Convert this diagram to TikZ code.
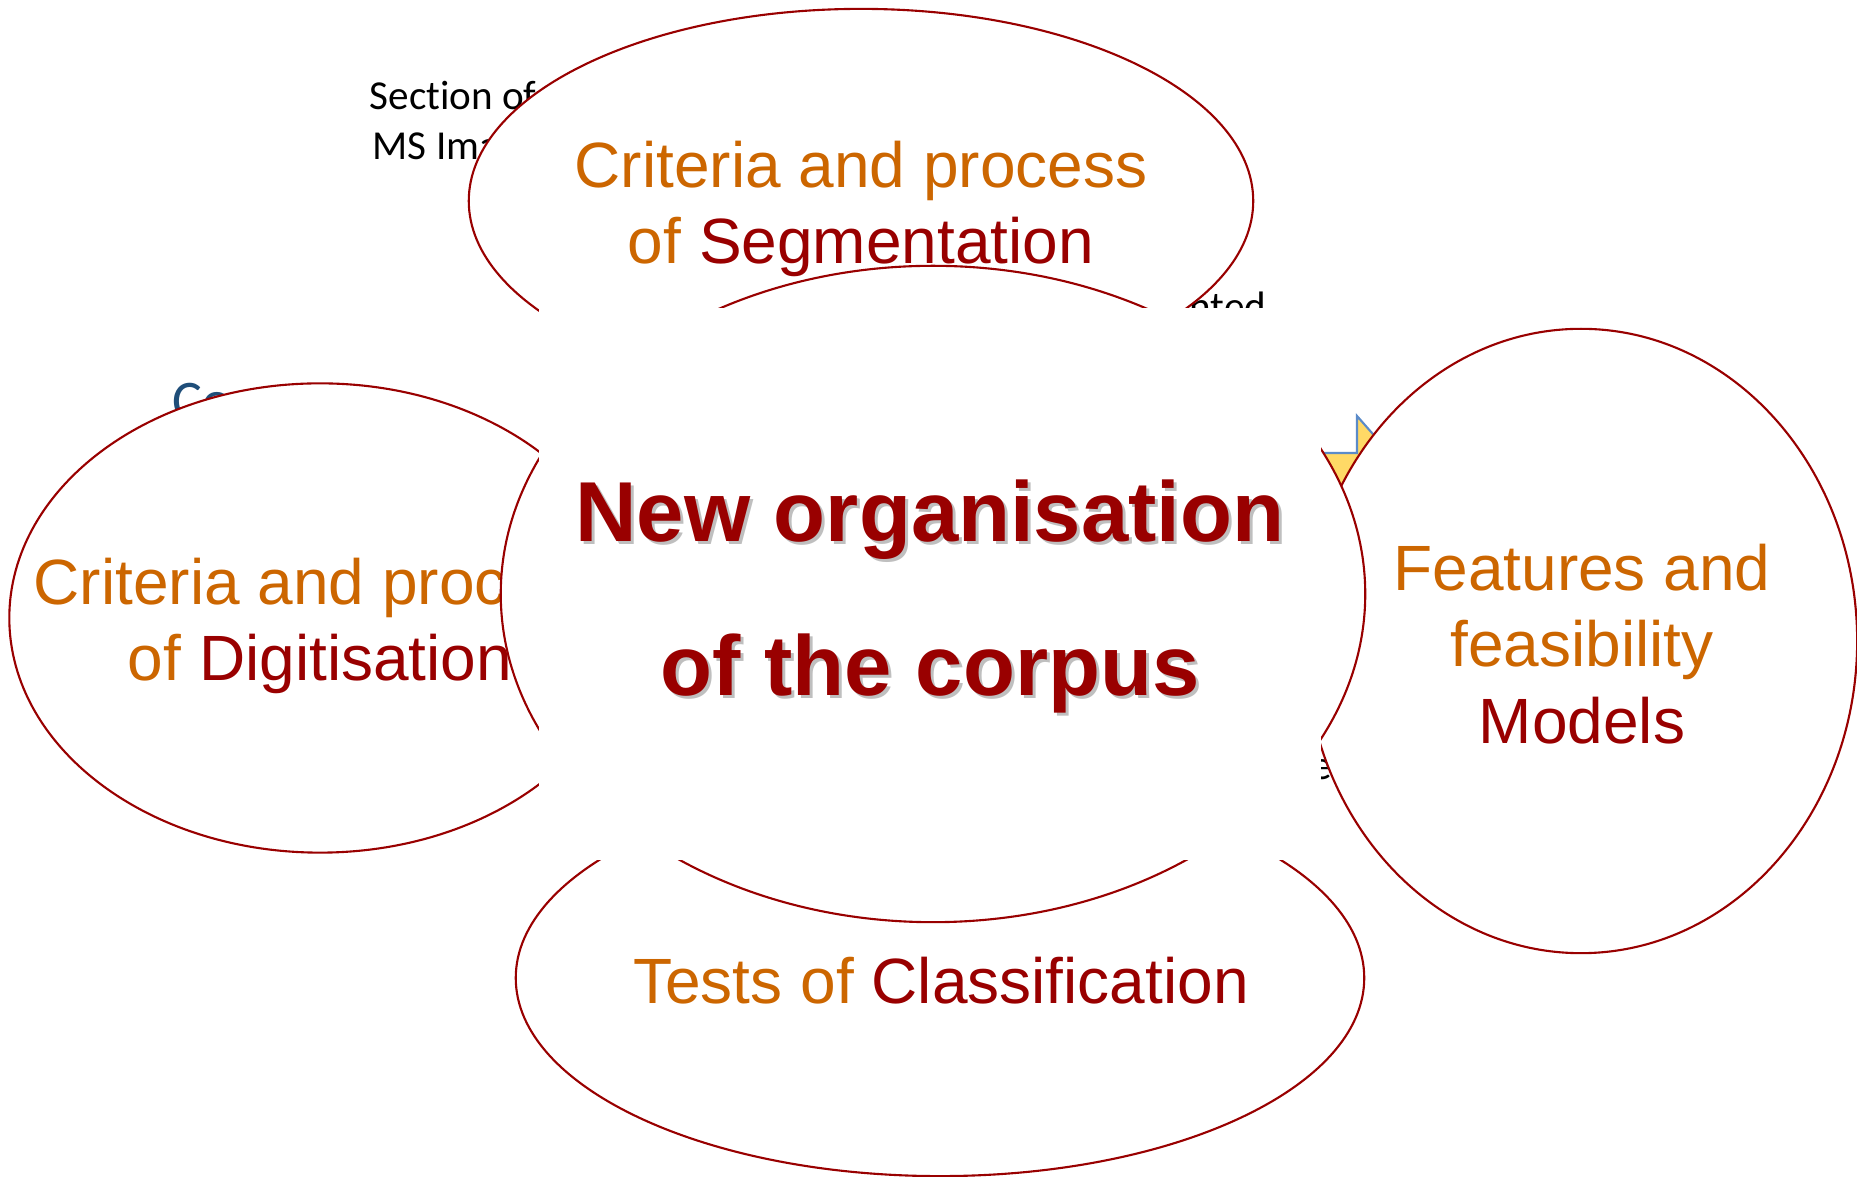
\documentclass[tikz,border=0pt]{standalone}
\usepackage{fontspec}
\setmainfont{Liberation Sans}
\newfontfamily\calibri[Ligatures=NoCommon]{Carlito}
\usepackage{xcolor}
\usetikzlibrary{shapes.geometric}
\definecolor{darkred}{HTML}{990000}
\definecolor{burnt}{HTML}{CC6600}
\definecolor{slateblue}{HTML}{1F4E79}
\definecolor{gold}{HTML}{FFD966}
\definecolor{edgeblue}{HTML}{5B8BC9}

\begin{document}
\begin{tikzpicture}[x=0.01cm, y=-0.01cm,
  bubble/.style={ellipse, draw=darkred, line width=0.6pt, fill=white, inner sep=0pt},
  bubbletext/.style={align=center, inner sep=0pt, text=burnt, font=\fontsize{18.2pt}{21.8pt}\selectfont},
  remark/.style={inner sep=0pt, font=\calibri\fontsize{11.7pt}{14.2pt}\selectfont},
  headline/.style={inner sep=0pt, anchor=base, font=\bfseries\fontsize{24.2pt}{29pt}\selectfont}]

\useasboundingbox (0,0) rectangle (1857,1177);

% texts lying behind the bubbles
\node[remark, anchor=base west] (sec1) at (369,110) {Section of};
\node[remark, anchor=base west] (sec2) at (372,160) {MS Ima};
\node[remark, anchor=base east] (nted) at (1267,321) {nted};
\node[remark, anchor=base east] (lastE) at (1333,780) {e};
\node[remark, anchor=base west, text=slateblue, font=\calibri\fontsize{15.9pt}{19pt}\selectfont] (co) at (172,420) {Co};
\draw[edgeblue, line width=0.6pt, fill=gold] (1290,453) -- (1357,453) -- (1357,416) -- (1430,499)
    -- (1357,582) -- (1357,545) -- (1290,545) -- cycle;

% outer bubbles
\node[bubble, minimum width=7.84cm, minimum height=3.84cm] (seg) at (861,201) {};
\node[bubbletext] (segtxt) at (861,209) {Criteria and process\\of \textcolor{darkred}{Segmentation}};

\node[bubble, minimum width=6.21cm, minimum height=4.69cm] (dig) at (320,618) {};
\node[bubbletext] (digtxt) at (320,626) {Criteria and process\\of \textcolor{darkred}{Digitisation}};

\node[bubble, minimum width=5.52cm, minimum height=6.24cm] (mod) at (1581,641) {};
\node[bubbletext] (modtxt) at (1582,644) {Features and\\feasibility\\\textcolor{darkred}{Models}};

\node[bubble, minimum width=8.48cm, minimum height=3.96cm] (cla) at (940,978) {};
\node[bubbletext, anchor=base] (clatxt) at (941,1004) {Tests of \textcolor{darkred}{Classification}};

% centre bubble
\node[bubble, minimum width=8.64cm, minimum height=6.56cm] (corpus) at (933,594) {};
\fill[white] (539,308) rectangle (1321,860);

\foreach \s/\c in {3/black!25, 0/darkred}{
  \node[headline, text=\c] (new\s) at (930+\s,542+\s) {New organisation};
  \node[headline, text=\c] (of\s) at (930+\s,696+\s) {of the corpus};
}

\end{tikzpicture}
\end{document}
